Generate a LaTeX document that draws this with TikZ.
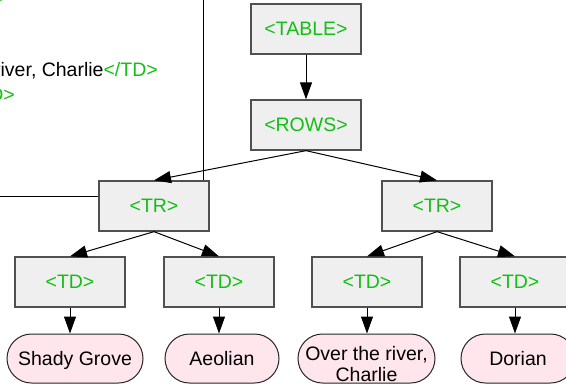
\documentclass[tikz,border=0pt]{standalone}
\usepackage{fontspec}
\setmainfont{Liberation Sans}
\usetikzlibrary{arrows.meta}
\definecolor{taggreen}{RGB}{20,190,20}
\definecolor{boxfill}{RGB}{239,239,239}
\definecolor{boxline}{RGB}{80,80,80}
\definecolor{leaffill}{RGB}{255,230,236}
\newcommand\dgfont{\fontsize{19.5}{21}\selectfont}
\newcommand\tg[1]{\textcolor{taggreen}{#1}}
\begin{document}
\begin{tikzpicture}[x=1pt,y=-1pt,
  tagbox/.style={draw=boxline, line width=1.3pt, fill=boxfill,
    minimum width=110pt, minimum height=50pt, inner sep=0pt,
    text height=12pt, text depth=0pt, text=taggreen, font=\dgfont},
  leaf/.style={draw=black!85, line width=1pt, fill=leaffill,
    minimum height=49pt, inner sep=0pt, rounded corners=24.5pt,
    text height=14pt, text depth=0pt, font=\dgfont},
  edge/.style={draw=black, line width=1pt, -{Triangle[length=17pt,width=12pt]}},
  codeline/.style={anchor=base east, inner sep=0pt, font=\dgfont}
]
\useasboundingbox (0,0) rectangle (566,384);
\clip (0,0) rectangle (566,384);

% text frame (partly outside the picture)
\draw[black, line width=1pt] (-300,-60) rectangle (203,196);
\node[codeline] (code0) at (18,1) {\tg{<TD>}Aeolian\tg{</TD>}};
\node[codeline] (code1) at (158,76) {\tg{<TD>}Over the river, Charlie\tg{</TD>}};
\node[codeline] (code2) at (15,101) {\tg{<TD>}Dorian\tg{</TD>}};

% tag nodes
\node[tagbox] (table) at (306,29) {<TABLE>};
\node[tagbox] (rows) at (306,125) {<ROWS>};
\node[tagbox] (tr1) at (154,206) {<TR>};
\node[tagbox] (tr2) at (437,206) {<TR>};
\node[tagbox] (td1) at (70,282) {<TD>};
\node[tagbox] (td2) at (219,282) {<TD>};
\node[tagbox] (td3) at (367,282) {<TD>};
\node[tagbox] (td4) at (515,282) {<TD>};

% leaves
\node[leaf, minimum width=136pt] (sg) at (75,358.5) {Shady Grove};
\node[leaf, minimum width=114pt] (ae) at (222,358.5) {Aeolian};
\node[leaf, minimum width=137pt, text height=24pt, text depth=21pt] (or) at (366.5,358.5)
  {\begin{tabular}[t]{@{}c@{}}Over the river,\\Charlie\end{tabular}};
\node[leaf, minimum width=114pt] (do) at (518,358.5) {Dorian};

% edges
\draw[edge] (table.south) -- (rows.north);
\draw[edge] (rows.south) -- (tr1.north);
\draw[edge] (rows.south) -- (tr2.north);
\draw[edge] (tr1.south) -- (td1.north);
\draw[edge] (tr1.south) -- (td2.north);
\draw[edge] (tr2.south) -- (td3.north);
\draw[edge] (tr2.south) -- (td4.north);
\draw[edge] (td1.south) -- (td1.south |- sg.north);
\draw[edge] (td2.south) -- (td2.south |- ae.north);
\draw[edge] (td3.south) -- (td3.south |- or.north);
\draw[edge] (td4.south) -- (td4.south |- do.north);
\end{tikzpicture}
\end{document}
